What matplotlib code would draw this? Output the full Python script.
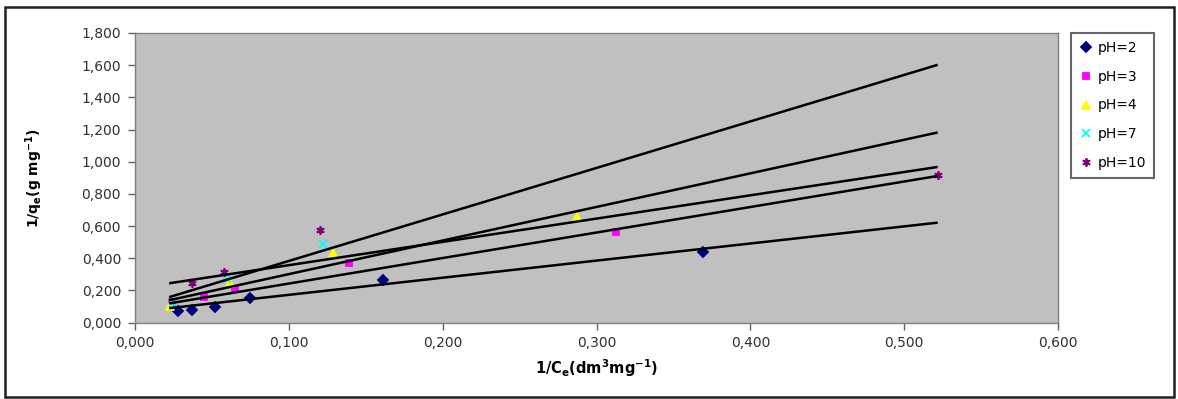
import matplotlib
matplotlib.use("Agg")
import matplotlib.pyplot as plt
import matplotlib.ticker as ticker
from matplotlib.patches import Rectangle

plt.rcParams.update({
    "font.family": ["DejaVu Sans"],
    "mathtext.fontset": "dejavusans",
    "mathtext.default": "bf",
})

# scatter data
series_labels = ["pH=2", "pH=3", "pH=4", "pH=7", "pH=10"]
ph2_x = [0.028, 0.037, 0.052, 0.075, 0.161, 0.369]
ph2_y = [0.071, 0.078, 0.096, 0.154, 0.264, 0.440]
ph3_x = [0.024, 0.045, 0.065, 0.139, 0.313]
ph3_y = [0.130, 0.160, 0.210, 0.370, 0.560]
ph4_x = [0.023, 0.062, 0.129, 0.287]
ph4_y = [0.100, 0.245, 0.430, 0.657]
ph7_x = [0.025, 0.060, 0.122]
ph7_y = [0.120, 0.270, 0.490]
ph10_x = [0.037, 0.058, 0.120, 0.522]
ph10_y = [0.245, 0.316, 0.575, 0.920]

# linear trend lines (start / end values)
trend_x = [0.023, 0.521]
trend_ph2 = [0.09, 0.62]
trend_ph3 = [0.12, 0.91]
trend_ph4 = [0.14, 1.18]
trend_ph7 = [0.16, 1.60]
trend_ph10 = [0.245, 0.966]

xticks = [0.0, 0.1, 0.2, 0.3, 0.4, 0.5, 0.6]
yticks = [0.0, 0.2, 0.4, 0.6, 0.8, 1.0, 1.2, 1.4, 1.6, 1.8]

colors = ["#000080", "#FF00FF", "#FFFF00", "#00FFFF", "#800080"]
markers = ["D", "s", "^", "x", (6, 2, 0)]
msizes = [5, 5, 6, 6, 6]

fig = plt.figure(figsize=(11.78, 3.99), dpi=100)
fig.patch.set_facecolor("white")
ax = fig.add_axes([135 / 1178, 76.5 / 399, 923 / 1178, 289.5 / 399])
ax.set_facecolor("#C0C0C0")

xs = [ph2_x, ph3_x, ph4_x, ph7_x, ph10_x]
ys = [ph2_y, ph3_y, ph4_y, ph7_y, ph10_y]
for i, (x, y) in enumerate(zip(xs, ys)):
    ax.plot(x, y, linestyle="none", marker=markers[i], markersize=msizes[i],
            color=colors[i], markeredgecolor=colors[i], markeredgewidth=1.3,
            label=series_labels[i], zorder=3)

for t in [trend_ph2, trend_ph3, trend_ph4, trend_ph7, trend_ph10]:
    ax.plot(trend_x, t, color="black", linewidth=1.8, zorder=4)

fmt = lambda v, _: f"{v:.3f}".replace(".", ",")
ax.set_xlim(0, 0.6)
ax.set_ylim(0, 1.8)
ax.set_xticks(xticks)
ax.set_yticks(yticks)
ax.xaxis.set_major_formatter(ticker.FuncFormatter(fmt))
ax.yaxis.set_major_formatter(ticker.FuncFormatter(fmt))
ax.tick_params(direction="out", length=5, width=1, color="#606060",
               labelsize=10, labelcolor="#303030", pad=5)
for s in ax.spines.values():
    s.set_color("#808080")
    s.set_linewidth(1)

ax.set_xlabel(r"1/C$_{e}$(dm$^{3}$mg$^{-1}$)", fontsize=10.5, fontweight="bold",
              labelpad=5)
ax.set_ylabel(r"1/q$_{e}$(g mg$^{-1}$)", fontsize=10, fontweight="bold")
ax.yaxis.set_label_coords(-0.098, 0.5)

leg = fig.legend(loc="upper left", bbox_to_anchor=(1071 / 1178, 366 / 399),
                 fontsize=10, frameon=True, fancybox=False, handlelength=0.9,
                 handletextpad=0.4, labelspacing=1.05, borderpad=0.6,
                 borderaxespad=0)
leg.get_frame().set_edgecolor("#404040")
leg.get_frame().set_linewidth(1.5)

# outer frame around the whole chart
fig.patches.append(Rectangle((5 / 1178, 2 / 399), 1169 / 1178, 390 / 399,
                             transform=fig.transFigure, fill=False,
                             edgecolor="#202020", linewidth=1.8))

fig.savefig("out.png", dpi=100)
